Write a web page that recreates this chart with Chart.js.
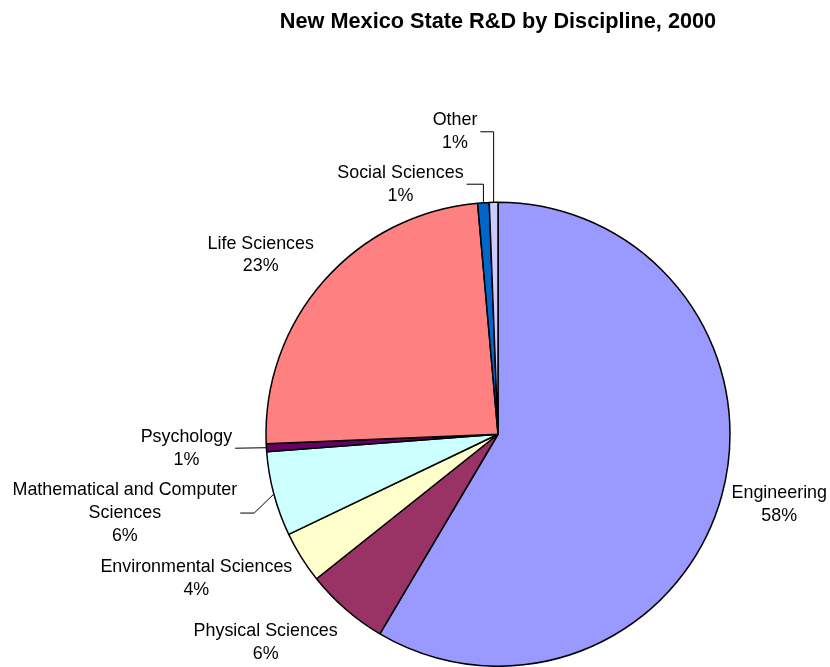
<!DOCTYPE html>
<html>
<head>
<meta charset="utf-8">
<script src="https://cdn.jsdelivr.net/npm/chart.js@4/dist/chart.umd.min.js"></script>
<style>
  html, body { margin: 0; padding: 0; background: #ffffff; }
  #wrap { width: 830px; height: 667px; }
</style>
</head>
<body>
<div id="wrap"><canvas id="c" width="830" height="667"></canvas></div>
<script>
// ---- data ----
const chartTitle = 'New Mexico State R&D by Discipline, 2000';
const categories = ['Engineering', 'Physical Sciences', 'Environmental Sciences',
  'Mathematical and Computer Sciences', 'Psychology', 'Life Sciences',
  'Social Sciences', 'Other'];
const shares = [58.5, 5.8, 3.6, 5.9, 0.55, 24.25, 0.8, 0.6];
const percentLabels = ['58%', '6%', '4%', '6%', '1%', '23%', '1%', '1%'];

// ---- styles ----
const sliceColors = ['#9999FF', '#993366', '#FFFFCC', '#CCFFFF', '#660066', '#FF8080', '#0066CC', '#CCCCFF'];
const labelFont = '17.9px "Liberation Sans", Arial, sans-serif';
const titleFont = 'bold 21.7px "Liberation Sans", Arial, sans-serif';
const lineHeight = 22.8;
// label block centre, as an offset from the slice's outer mid-point
const labelOffsets = [[57.5, 9], [-80, 33], [-105, 21], [-149, 19], [-80, 0.5], [-63, -26], [-83, -18.5], [-38.6, -70.5]];
// leader lines: null = none; 'edge' = horizontal to slice x then down; number = horizontal run then straight
const leaders = [null, null, null, 14, 0, null, 'edge', 'edge'];

function wrapLines(ctx, text, maxW) {
  if (ctx.measureText(text).width <= maxW) return [text];
  const words = text.split(' ');
  const last = words.pop();
  return [words.join(' '), last];
}

const labelPlugin = {
  id: 'pieLabels',
  afterDraw(chart) {
    const ctx = chart.ctx;
    const area = chart.chartArea;
    ctx.save();
    // title
    ctx.font = titleFont;
    ctx.fillStyle = '#000';
    ctx.textAlign = 'center';
    ctx.textBaseline = 'alphabetic';
    ctx.fillText(chartTitle, (area.left + area.right) / 2, 27.5);

    const meta = chart.getDatasetMeta(0);
    ctx.font = labelFont;
    meta.data.forEach((arc, i) => {
      const p = arc.getProps(['x', 'y', 'startAngle', 'endAngle', 'outerRadius'], true);
      const mid = (p.startAngle + p.endAngle) / 2;
      const ex = p.x + Math.cos(mid) * p.outerRadius;
      const ey = p.y + Math.sin(mid) * p.outerRadius;
      const cx = ex + labelOffsets[i][0];
      const cy = ey + labelOffsets[i][1];
      const lines = wrapLines(ctx, categories[i], 250).concat([percentLabels[i]]);
      const n = lines.length;
      let maxW = 0;
      lines.forEach((t, k) => {
        maxW = Math.max(maxW, ctx.measureText(t).width);
        ctx.fillStyle = '#000';
        ctx.textAlign = 'center';
        ctx.textBaseline = 'middle';
        ctx.fillText(t, cx, cy + (k - (n - 1) / 2) * lineHeight);
      });
      const ld = leaders[i];
      if (ld !== null) {
        const sx = cx + maxW / 2 + 3;
        const sy = cy;
        ctx.beginPath();
        ctx.strokeStyle = '#000';
        ctx.lineWidth = 1;
        ctx.moveTo(sx, sy);
        if (ld === 'edge') {
          ctx.lineTo(ex, sy);
          ctx.lineTo(ex, ey);
        } else {
          ctx.lineTo(sx + ld, sy);
          ctx.lineTo(ex, ey);
        }
        ctx.stroke();
      }
    });
    ctx.restore();
  }
};

new Chart(document.getElementById('c'), {
  type: 'pie',
  data: {
    labels: categories,
    datasets: [{
      data: shares,
      backgroundColor: sliceColors,
      borderColor: '#000000',
      borderWidth: 1.5
    }]
  },
  options: {
    responsive: false,
    devicePixelRatio: 1,
    animation: false,
    layout: { padding: { left: 265, right: 99, top: 201.5, bottom: 0 } },
    plugins: {
      legend: { display: false },
      tooltip: { enabled: false },
      title: { display: false }
    }
  },
  plugins: [labelPlugin]
});
</script>
</body>
</html>
